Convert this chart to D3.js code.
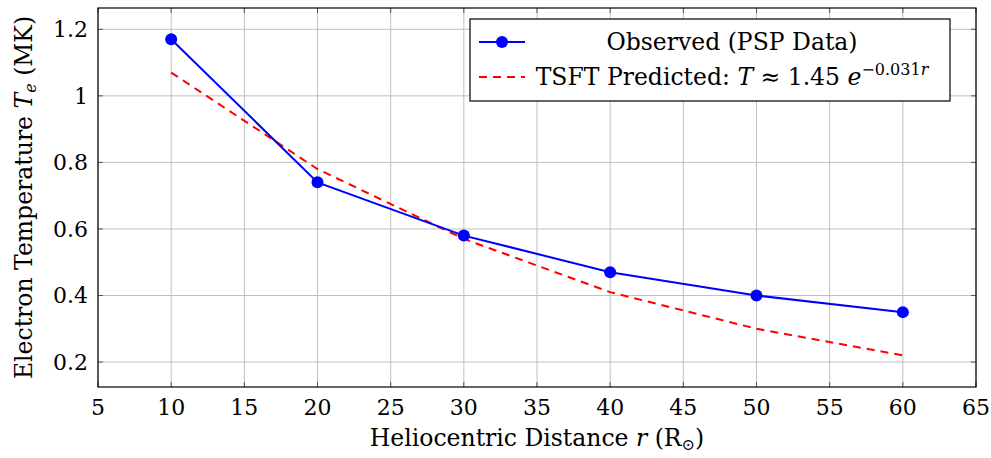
<!DOCTYPE html>
<html>
<head>
<meta charset="utf-8">
<script src="https://cdn.jsdelivr.net/npm/d3@7"></script>
<style>
  body { margin: 0; background: #fff; }
  text { font-family: "DejaVu Serif", "Liberation Serif", serif; fill: #000; }
</style>
</head>
<body>
<div id="chart"></div>
<script>
const distances = [10, 20, 30, 40, 50, 60];
const observedTemp = [1.17, 0.74, 0.58, 0.47, 0.40, 0.35];
const predictedTemp = [1.07, 0.78, 0.57, 0.41, 0.30, 0.22];
const xTicks = [5, 10, 15, 20, 25, 30, 35, 40, 45, 50, 55, 60, 65];
const yTicks = [0.2, 0.4, 0.6, 0.8, 1.0, 1.2];

const width = 991;
const height = 458;
const margin = { top: 8, right: 15, bottom: 71, left: 98 };
const fontSize = 22;
const labelSize = 23.5;
const smallSize = 16;

const svg = d3.select('#chart')
  .append('svg')
    .attr('width', width)
    .attr('height', height);

const x = d3.scaleLinear()
  .domain([5, 65])
  .range([margin.left, width - margin.right]);

const y = d3.scaleLinear()
  .domain([0.125, 1.264])
  .range([height - margin.bottom, margin.top]);

const plotTop = margin.top;
const plotBottom = height - margin.bottom;
const plotLeft = margin.left;
const plotRight = width - margin.right;

// grid
svg.append('g')
  .selectAll('line')
  .data(xTicks)
  .join('line')
    .attr('x1', d => x(d)).attr('x2', d => x(d))
    .attr('y1', plotTop).attr('y2', plotBottom)
    .attr('stroke', '#c0c0c0').attr('stroke-width', 1);

svg.append('g')
  .selectAll('line')
  .data(yTicks)
  .join('line')
    .attr('x1', plotLeft).attr('x2', plotRight)
    .attr('y1', d => y(d)).attr('y2', d => y(d))
    .attr('stroke', '#c0c0c0').attr('stroke-width', 1);

// inner ticks on all four sides
const tickLen = 5;
const ticks = svg.append('g').attr('stroke', '#555').attr('stroke-width', 1);
xTicks.forEach(t => {
  ticks.append('line').attr('x1', x(t)).attr('x2', x(t)).attr('y1', plotBottom).attr('y2', plotBottom - tickLen);
  ticks.append('line').attr('x1', x(t)).attr('x2', x(t)).attr('y1', plotTop).attr('y2', plotTop + tickLen);
});
yTicks.forEach(t => {
  ticks.append('line').attr('x1', plotLeft).attr('x2', plotLeft + tickLen).attr('y1', y(t)).attr('y2', y(t));
  ticks.append('line').attr('x1', plotRight).attr('x2', plotRight - tickLen).attr('y1', y(t)).attr('y2', y(t));
});

// frame
svg.append('rect')
  .attr('x', plotLeft).attr('y', plotTop)
  .attr('width', plotRight - plotLeft).attr('height', plotBottom - plotTop)
  .attr('fill', 'none').attr('stroke', '#000').attr('stroke-width', 1.2);

// tick labels
svg.append('g')
  .selectAll('text')
  .data(xTicks)
  .join('text')
    .attr('x', d => x(d))
    .attr('y', plotBottom + 28)
    .attr('text-anchor', 'middle')
    .attr('font-size', fontSize)
    .text(d => d);

svg.append('g')
  .selectAll('text')
  .data(yTicks)
  .join('text')
    .attr('x', plotLeft - 10)
    .attr('y', d => y(d) + 8)
    .attr('text-anchor', 'end')
    .attr('font-size', fontSize)
    .text(d => d === 1 ? '1' : d3.format('.1f')(d));

// axis labels
const xLabel = svg.append('text')
  .attr('x', (plotLeft + plotRight) / 2)
  .attr('y', 446)
  .attr('text-anchor', 'middle')
  .attr('font-size', labelSize);
xLabel.append('tspan').text('Heliocentric Distance ');
xLabel.append('tspan').attr('font-style', 'italic').text('r');
xLabel.append('tspan').text(' (R');
xLabel.append('tspan').attr('font-size', smallSize).attr('dy', 4).text('\u2299');
xLabel.append('tspan').attr('dy', -4).text(')');

const yLabel = svg.append('text')
  .attr('transform', `translate(32, ${(plotTop + plotBottom) / 2}) rotate(-90)`)
  .attr('text-anchor', 'middle')
  .attr('font-size', labelSize);
yLabel.append('tspan').text('Electron Temperature ');
yLabel.append('tspan').attr('font-style', 'italic').text('T');
yLabel.append('tspan').attr('font-style', 'italic').attr('font-size', smallSize).attr('dy', 4).text('e');
yLabel.append('tspan').attr('dy', -4).text(' (MK)');

// series
const observed = distances.map((d, i) => ({ r: d, t: observedTemp[i] }));
const predicted = distances.map((d, i) => ({ r: d, t: predictedTemp[i] }));

const line = d3.line().x(d => x(d.r)).y(d => y(d.t));

svg.append('path')
  .datum(predicted)
  .attr('d', line)
  .attr('fill', 'none')
  .attr('stroke', '#ff0000')
  .attr('stroke-width', 2)
  .attr('stroke-dasharray', '8,6');

svg.append('path')
  .datum(observed)
  .attr('d', line)
  .attr('fill', 'none')
  .attr('stroke', '#0000ff')
  .attr('stroke-width', 2);

svg.append('g')
  .selectAll('circle')
  .data(observed)
  .join('circle')
    .attr('cx', d => x(d.r))
    .attr('cy', d => y(d.t))
    .attr('r', 6)
    .attr('fill', '#0000ff');

// legend
const legend = svg.append('g');
legend.append('rect')
  .attr('x', 470).attr('y', 19)
  .attr('width', 480).attr('height', 82)
  .attr('fill', '#fff').attr('stroke', '#000').attr('stroke-width', 1.2);

legend.append('line')
  .attr('x1', 479).attr('x2', 525).attr('y1', 42).attr('y2', 42)
  .attr('stroke', '#0000ff').attr('stroke-width', 2);
legend.append('circle')
  .attr('cx', 502).attr('cy', 42).attr('r', 6).attr('fill', '#0000ff');
legend.append('line')
  .attr('x1', 479).attr('x2', 525).attr('y1', 77).attr('y2', 77)
  .attr('stroke', '#ff0000').attr('stroke-width', 2)
  .attr('stroke-dasharray', '8,6');

legend.append('text')
  .attr('x', 732).attr('y', 50)
  .attr('text-anchor', 'middle')
  .attr('font-size', labelSize)
  .text('Observed (PSP Data)');

const predLabel = legend.append('text')
  .attr('x', 732).attr('y', 85)
  .attr('text-anchor', 'middle')
  .attr('font-size', labelSize);
predLabel.append('tspan').text('TSFT Predicted: ');
predLabel.append('tspan').attr('font-style', 'italic').text('T');
predLabel.append('tspan').text(' \u2248 1.45 ');
predLabel.append('tspan').attr('font-style', 'italic').text('e');
predLabel.append('tspan').attr('font-size', smallSize).attr('dy', -10).text('\u22120.031');
predLabel.append('tspan').attr('font-size', smallSize).attr('font-style', 'italic').text('r');
</script>
</body>
</html>
